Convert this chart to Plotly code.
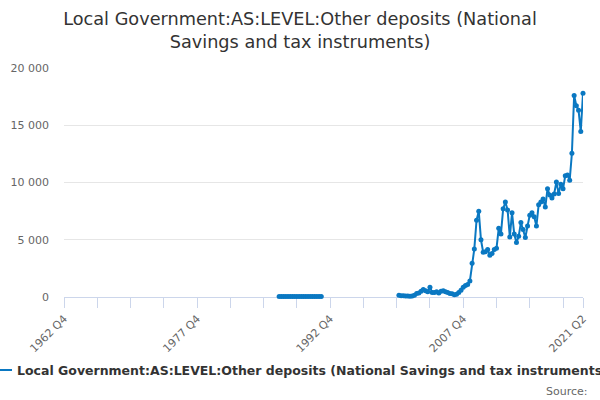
import plotly.graph_objects as go

# quarterly categories, 1962 Q4 .. 2021 Q2
first_year, first_q = 1962, 4
last_year, last_q = 2021, 2
quarters = []
y, q = first_year, first_q
while (y, q) <= (last_year, last_q):
    quarters.append(f"{y} Q{q}")
    q += 1
    if q > 4:
        y, q = y + 1, 1

# early block of observations (all near zero)
early_start = "1987 Q1"
early_values = [40, 40, 40, 40, 40, 40, 40, 40, 40, 40,
                40, 40, 40, 40, 40, 40, 40, 40, 40, 40]

# later block of observations
late_start = "2000 Q3"
late_values = [150, 120, 100, 80, 90, 60, 80, 150, 300, 350,
               500, 650, 550, 450, 850, 400, 400, 450, 350, 500,
               550, 450, 400, 300, 280, 200, 250, 400, 600, 850,
               1000, 1100, 1400, 2950, 4200, 6700, 7500, 5000, 3900, 3950,
               4150, 3650, 3800, 4150, 4250, 6000, 5500, 7700, 8300, 7600,
               5250, 7350, 5500, 4750, 5300, 6500, 5900, 5200, 6200, 7150,
               7350, 7000, 6200, 8050, 8300, 8550, 7850, 9450, 8900, 8650,
               9000, 10050, 9050, 9850, 9450, 10600, 10650, 10200, 12550, 17600,
               16700, 16300, 14450, 17800]

series_name = "Local Government:AS:LEVEL:Other deposits (National Savings and tax instruments)"
title = "Local Government:AS:LEVEL:Other deposits (National<br>Savings and tax instruments)"

tick_labels = {"1962 Q4": "1962 Q4", "1977 Q4": "1977 Q4", "1992 Q4": "1992 Q4",
               "2007 Q4": "2007 Q4", "2021 Q2": "2021 Q2"}

# put the blocks onto the full quarter axis, gaps stay empty
values = [None] * len(quarters)
i0 = quarters.index(early_start)
for k, v in enumerate(early_values):
    values[i0 + k] = v
i0 = quarters.index(late_start)
for k, v in enumerate(late_values):
    values[i0 + k] = v

tickvals = quarters[::15] + [quarters[-1]]
ticktext = [tick_labels.get(t, "") for t in tickvals]

fig = go.Figure(go.Scatter(
    x=quarters, y=values, name=series_name,
    mode="lines+markers",
    line=dict(color="#0a78c2", width=2),
    marker=dict(size=5, color="#0a78c2"),
    cliponaxis=False,
    connectgaps=False))

fig.update_layout(
    width=600, height=400,
    paper_bgcolor="white", plot_bgcolor="white",
    font=dict(family="DejaVu Sans", color="#666666", size=11),
    separators=". ",
    title=dict(text=title, x=0.5, xanchor="center",
               yref="container", y=1 - 25 / 400, yanchor="middle",
               font=dict(size=17.7, color="#333333")),
    margin=dict(l=64, r=17, t=68, b=103, autoexpand=False),
    showlegend=True,
    legend=dict(orientation="h", x=-0.1676, xanchor="left", y=-0.32, yanchor="middle",
                font=dict(size=12.5, color="#333333", weight="bold"),
                bgcolor="rgba(0,0,0,0)"),
    xaxis=dict(type="category", categoryorder="array", categoryarray=quarters,
               range=[0, len(quarters) - 1],
               tickmode="array", tickvals=tickvals, ticktext=ticktext,
               tickangle=-45, ticks="outside", ticklen=10, tickcolor="#ccd6eb",
               showline=True, linecolor="#ccd6eb", linewidth=1,
               showgrid=False, zeroline=False, layer="below traces",
               tickfont=dict(size=11, color="#666666")),
    yaxis=dict(range=[0, 20000], tickvals=[0, 5000, 10000, 15000, 20000],
               tickformat=",", showgrid=True, gridcolor="#e6e6e6",
               zeroline=False, showline=False, ticks="", layer="below traces",
               ticklabelstandoff=14,
               tickfont=dict(size=11, color="#666666")),
    annotations=[dict(text="Source:", xref="paper", yref="paper",
                      x=(590 - 64) / 519, xanchor="right",
                      y=(297 - 391) / 229, yanchor="middle",
                      showarrow=False, font=dict(size=11, color="#666666"))])

# page body has a default margin; drop it so the chart sits at the window corner
fig.write_html("out.html", config={"displayModeBar": False},
               post_script="document.body.style.margin='0';")
